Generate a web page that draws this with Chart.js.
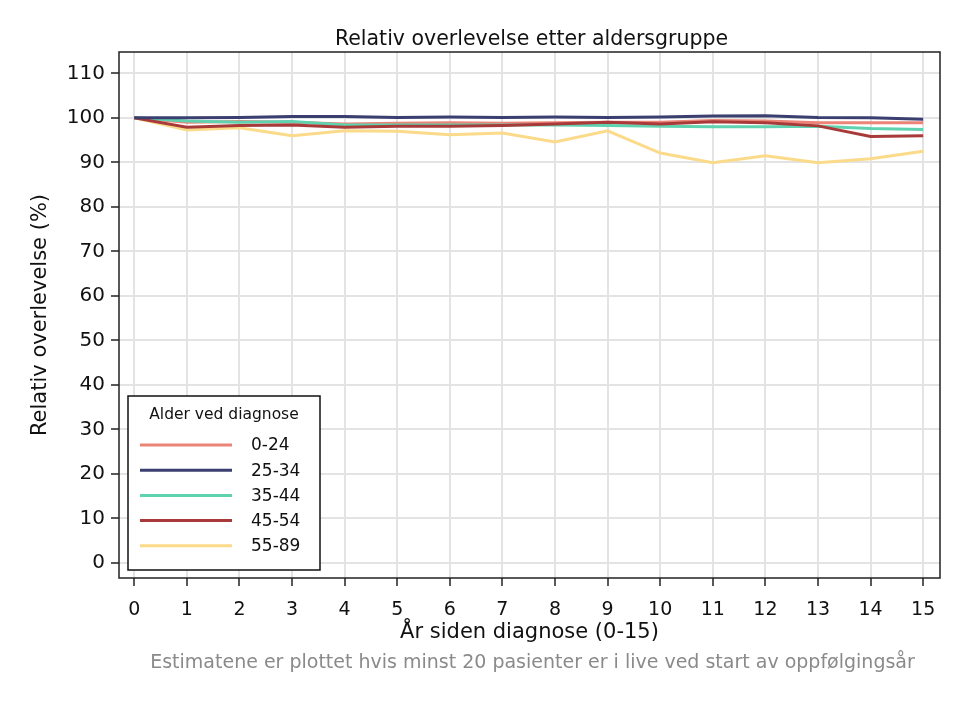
<!DOCTYPE html>
<html>
<head>
<meta charset="utf-8">
<script src="https://cdn.jsdelivr.net/npm/chart.js@4.4.1/dist/chart.umd.min.js"></script>
<style>
  html, body { margin: 0; padding: 0; background: #fff; }
  #wrap { width: 970px; height: 706px; position: relative; }
</style>
</head>
<body>
<div id="wrap"><canvas id="c" width="970" height="706"></canvas></div>
<script>
const years = [0,1,2,3,4,5,6,7,8,9,10,11,12,13,14,15];
const yTicks = [0,10,20,30,40,50,60,70,80,90,100,110];
const seriesLabels = ['0-24','25-34','35-44','45-54','55-89'];
const s0_24  = [100, 99.0, 99.2, 99.0, 98.6, 98.8, 98.9, 98.8, 98.9, 99.0, 99.0, 99.4, 99.3, 98.9, 98.9, 98.9];
const s25_34 = [100, 100.0, 100.1, 100.3, 100.3, 100.1, 100.2, 100.1, 100.2, 100.1, 100.2, 100.4, 100.5, 100.1, 100.0, 99.7];
const s35_44 = [100, 99.3, 99.0, 99.2, 98.4, 98.4, 98.4, 98.4, 98.4, 98.3, 98.1, 98.0, 98.0, 98.1, 97.6, 97.4];
const s45_54 = [100, 97.9, 98.3, 98.4, 97.9, 98.1, 98.1, 98.3, 98.6, 99.0, 98.6, 99.1, 98.9, 98.2, 95.8, 96.0];
const s55_89 = [100, 97.3, 97.8, 96.0, 97.1, 97.0, 96.2, 96.6, 94.6, 97.1, 92.1, 89.9, 91.5, 89.9, 90.8, 92.5];
const chartTitle = 'Relativ overlevelse etter aldersgruppe';
const footnote = 'Estimatene er plottet hvis minst 20 pasienter er i live ved start av oppfølgingsår';
const legendTitle = 'Alder ved diagnose';

const colors = ['#EC8478', '#3A3F6F', '#5FD3AF', '#A83A3A', '#FBDB8A'];
const drawOrder = [3, 0, 2, 1, 4];
const allSeries = [s0_24, s25_34, s35_44, s45_54, s55_89];

const FONT = "'DejaVu Sans', sans-serif";

const datasets = allSeries.map((vals, i) => ({
  label: seriesLabels[i],
  data: vals.map((v, k) => ({x: years[k], y: v})),
  borderColor: colors[i],
  backgroundColor: colors[i],
  borderWidth: 3,
  pointRadius: 0,
  tension: 0,
  fill: false,
  order: drawOrder[i]
}));

const framePlugin = {
  id: 'frame',
  afterDraw(chart) {
    const {ctx, chartArea: a} = chart;
    ctx.save();
    ctx.strokeStyle = '#222';
    ctx.lineWidth = 1.5;
    ctx.strokeRect(a.left, a.top, a.right - a.left, a.bottom - a.top);

    const cx = (a.left + a.right) / 2;
    ctx.textAlign = 'center';
    ctx.textBaseline = 'middle';
    ctx.fillStyle = '#111';
    ctx.font = "20.5px " + FONT;
    ctx.fillText(chartTitle, cx + 2, 40);
    ctx.fillStyle = '#8a8a8a';
    ctx.font = "19px " + FONT;
    ctx.fillText(footnote, cx + 3, 663);

    // legend box
    const bx = 128, by = 396, bw = 192, bh = 174;
    ctx.fillStyle = '#fff';
    ctx.fillRect(bx, by, bw, bh);
    ctx.strokeStyle = '#111';
    ctx.lineWidth = 1.5;
    ctx.strokeRect(bx, by, bw, bh);
    ctx.fillStyle = '#111';
    ctx.font = "15.5px " + FONT;
    ctx.textAlign = 'center';
    ctx.fillText(legendTitle, bx + bw / 2, by + 19);
    ctx.font = "17px " + FONT;
    ctx.textAlign = 'left';
    chart.data.datasets.forEach((ds, i) => {
      const y = by + 49 + i * 25.2;
      ctx.strokeStyle = ds.borderColor;
      ctx.lineWidth = 3;
      ctx.beginPath();
      ctx.moveTo(140, y);
      ctx.lineTo(232, y);
      ctx.stroke();
      ctx.fillStyle = '#111';
      ctx.fillText(ds.label, 251, y + 1);
    });
    ctx.restore();
  }
};

new Chart(document.getElementById('c'), {
  type: 'line',
  data: { datasets },
  options: {
    responsive: false,
    animation: false,
    layout: { padding: { left: 0, right: 30, top: 52, bottom: 53 } },
    plugins: {
      legend: { display: false },
      tooltip: { enabled: false },
      title: { display: false },
      subtitle: { display: false }
    },
    scales: {
      x: {
        type: 'linear',
        min: -0.29,
        max: 15.32,
        afterBuildTicks(scale) { scale.ticks = years.map(v => ({value: v})); },
        afterFit(scale) { scale.height = 75; },
        grid: { color: '#e3e3e3', lineWidth: 2, tickColor: '#222', tickLength: 8, tickWidth: 1.5 },
        border: { display: false },
        ticks: { color: '#111', font: { family: FONT, size: 19 }, padding: 13, maxRotation: 0, autoSkip: false },
        title: {
          display: true,
          text: 'År siden diagnose (0-15)',
          color: '#111',
          font: { family: FONT, size: 21 },
          padding: { top: 0, bottom: 8 }
        }
      },
      y: {
        type: 'linear',
        min: -3.4,
        max: 114.8,
        afterBuildTicks(scale) { scale.ticks = yTicks.map(v => ({value: v})); },
        afterFit(scale) { scale.width = 119; },
        grid: { color: '#e3e3e3', lineWidth: 2, tickColor: '#222', tickLength: 8, tickWidth: 1.5 },
        border: { display: false },
        ticks: { color: '#111', font: { family: FONT, size: 20 }, padding: 6 },
        title: {
          display: true,
          text: 'Relativ overlevelse (%)',
          color: '#111',
          font: { family: FONT, size: 21 },
          padding: { top: 28, bottom: 0 }
        }
      }
    }
  },
  plugins: [framePlugin]
});
</script>
</body>
</html>
